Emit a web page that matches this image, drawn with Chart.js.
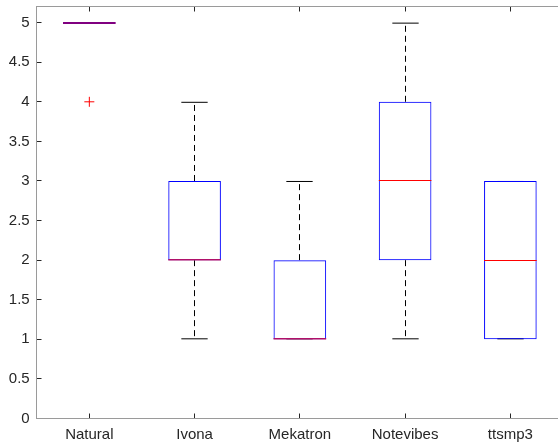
<!DOCTYPE html>
<html>
<head>
<meta charset="utf-8">
<script src="https://cdn.jsdelivr.net/npm/chart.js@4"></script>
<style>
  html, body { margin: 0; padding: 0; background: #fff; overflow: hidden; }
  /* a bit wider than the window: the right side of the axes box is cut off in the reference */
  #wrap { width: 569px; height: 445px; }
  #boxChart { display: block; width: 569px; height: 445px; }
</style>
</head>
<body>
<div id="wrap"><canvas id="boxChart" width="569" height="445"></canvas></div>
<script>
// box plot values
const categories = ['Natural', 'Ivona', 'Mekatron', 'Notevibes', 'ttsmp3'];
const q1 = [5, 2, 1, 2, 1];
const q3 = [5, 3, 2, 4, 3];
const medians = [5, 2, 1, 3, 2];
const whiskerLow = [5, 1, 1, 1, 1];
const whiskerHigh = [5, 4, 3, 5, 3];
const outliers = [4, null, null, null, null];
const yTicks = [0, 0.5, 1, 1.5, 2, 2.5, 3, 3.5, 4, 4.5, 5];

const crisp = v => Math.round(v - 0.5) + 0.5;

// whiskers + caps under the boxes, medians on top
const boxParts = {
  id: 'boxParts',
  beforeDatasetsDraw(chart) {
    const ctx = chart.ctx;
    const xs = chart.scales.x, ys = chart.scales.y;
    const step = xs.getPixelForValue(1) - xs.getPixelForValue(0);
    const capHalf = step * 0.125;
    ctx.save();
    ctx.strokeStyle = '#000';
    ctx.lineWidth = 1;
    categories.forEach((c, i) => {
      if (q1[i] === q3[i]) return; // flat box, nothing to show
      const x = crisp(xs.getPixelForValue(i));
      ctx.setLineDash([6, 4]);
      ctx.beginPath();
      ctx.moveTo(x, ys.getPixelForValue(q3[i]));
      ctx.lineTo(x, ys.getPixelForValue(whiskerHigh[i]));
      ctx.moveTo(x, ys.getPixelForValue(q1[i]));
      ctx.lineTo(x, ys.getPixelForValue(whiskerLow[i]));
      ctx.stroke();
      ctx.setLineDash([]);
      ctx.beginPath();
      const yHi = ys.getPixelForValue(whiskerHigh[i]) + 0.5;
      const yLo = ys.getPixelForValue(whiskerLow[i]) - 0.5;
      ctx.moveTo(x - capHalf, yHi); ctx.lineTo(x + capHalf, yHi);
      ctx.moveTo(x - capHalf, yLo); ctx.lineTo(x + capHalf, yLo);
      ctx.stroke();
    });
    ctx.restore();
  },
  afterDatasetsDraw(chart) {
    const ctx = chart.ctx;
    const xs = chart.scales.x, ys = chart.scales.y;
    const step = xs.getPixelForValue(1) - xs.getPixelForValue(0);
    const half = step * 0.25;
    ctx.save();
    categories.forEach((c, i) => {
      const x = xs.getPixelForValue(i);
      let y = ys.getPixelForValue(medians[i]);
      const flat = q1[i] === q3[i];
      let col = '#ff0000';
      ctx.lineWidth = 1;
      if (flat) {
        col = '#800080';
        ctx.lineWidth = 2;
        y = Math.round(y);
      } else if (medians[i] === q1[i]) {
        col = '#b0106a';
        ctx.lineWidth = 1.5;
        y -= 0.5;
      } else if (medians[i] === q3[i]) {
        col = '#b0106a';
        ctx.lineWidth = 1.5;
        y += 0.5;
      } else {
        y = crisp(y);
      }
      ctx.strokeStyle = col;
      ctx.beginPath();
      ctx.moveTo(x - half, y);
      ctx.lineTo(x + half, y);
      ctx.stroke();
    });
    ctx.restore();
  },
  // matlab style box around the axes, ticks pointing inwards
  afterDraw(chart) {
    const ctx = chart.ctx;
    const a = chart.chartArea;
    const xs = chart.scales.x, ys = chart.scales.y;
    const L = crisp(a.left), R = crisp(a.right), T = crisp(a.top), B = crisp(a.bottom);
    ctx.save();
    ctx.lineWidth = 1;
    ctx.strokeStyle = '#262626';
    ctx.beginPath();
    categories.forEach((c, i) => {
      const x = crisp(xs.getPixelForValue(i));
      ctx.moveTo(x, B); ctx.lineTo(x, B - 5);
      ctx.moveTo(x, T); ctx.lineTo(x, T + 5);
    });
    yTicks.forEach(v => {
      const y = crisp(ys.getPixelForValue(v));
      ctx.moveTo(L, y); ctx.lineTo(L + 5, y);
      ctx.moveTo(R, y); ctx.lineTo(R - 5, y);
    });
    ctx.stroke();
    ctx.strokeStyle = '#9a9a9a';
    ctx.strokeRect(L, T, R - L, B - T);
    ctx.restore();
  }
};

const ctx = document.getElementById('boxChart');

new Chart(ctx, {
  type: 'bar',
  data: {
    labels: categories,
    datasets: [{
      label: 'box',
      data: q1.map((v, i) => [v, q3[i]]),
      backgroundColor: 'rgba(0,0,0,0)',
      borderColor: '#0000ff',
      borderWidth: 1,
      borderSkipped: false,
      barPercentage: 0.5,
      categoryPercentage: 1
    },
    {
      type: 'line',
      label: 'outliers',
      data: outliers,
      showLine: false,
      pointStyle: 'cross',
      pointRadius: 5,
      pointBorderColor: '#ff0000',
      pointBackgroundColor: '#ff0000',
      pointBorderWidth: 1
    }]
  },
  options: {
    responsive: false,
    animation: false,
    events: [],
    layout: { padding: { top: 4.5, right: 2.2, left: 0, bottom: 0 } },
    plugins: {
      legend: { display: false },
      tooltip: { enabled: false }
    },
    scales: {
      x: {
        offset: true,
        grid: { display: false, drawTicks: false },
        border: { display: false },
        ticks: {
          color: '#262626',
          padding: 7,
          maxRotation: 0,
          font: { family: '"Liberation Sans", Arial, sans-serif', size: 15 }
        },
        afterFit(scale) {
          scale.height = 26.5;
          scale.paddingLeft = 0;
          scale.paddingRight = 0;
        }
      },
      y: {
        min: 0,
        max: 5.21,
        grid: { display: false, drawTicks: false },
        border: { display: false },
        afterBuildTicks(scale) { scale.ticks = yTicks.map(v => ({ value: v })); },
        ticks: {
          color: '#262626',
          padding: 7,
          font: { family: '"Liberation Sans", Arial, sans-serif', size: 15 },
          callback: v => String(v)
        },
        afterFit(scale) {
          scale.width = 36.7;
          scale.paddingTop = 0;
          scale.paddingBottom = 0;
        }
      }
    }
  },
  plugins: [boxParts]
});
</script>
</body>
</html>
